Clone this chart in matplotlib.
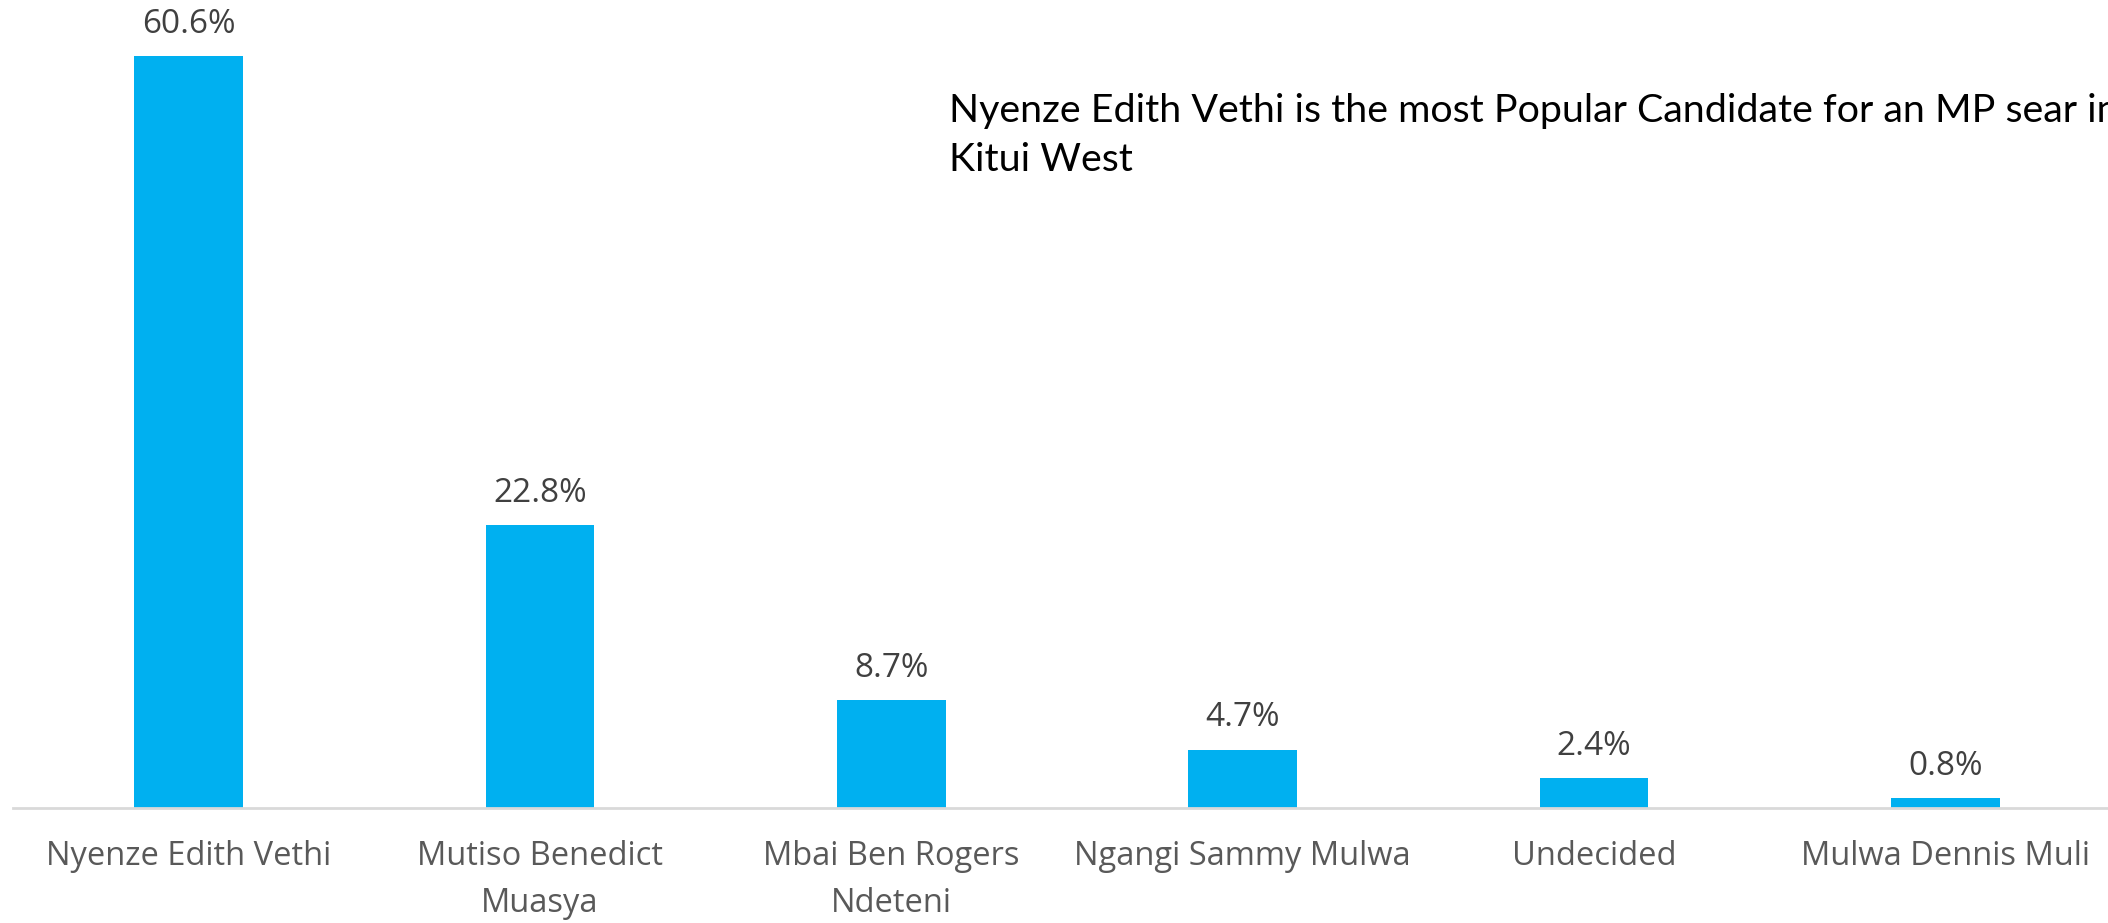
import numpy as np
import matplotlib.pyplot as plt

# candidates and share of support (%)
candidates = ['Nyenze Edith Vethi', 'Mutiso Benedict\nMuasya', 'Mbai Ben Rogers\nNdeteni',
              'Ngangi Sammy Mulwa', 'Undecided', 'Mulwa Dennis Muli']
support = [60.6, 22.8, 8.7, 4.7, 2.4, 0.8]
note_lines = ['Nyenze Edith Vethi is the most Popular Candidate for an MP sear in', 'Kitui West']

W, H = 2108, 923
fig = plt.figure(figsize=(W/100, H/100), dpi=100)
ax = fig.add_axes([13/W, 1-808/H, 1, 808/H])

x = np.arange(len(candidates))
bars = ax.bar(x, support, width=0.31, color='#00B0F0')

for xi, v in zip(x, support):
    ax.annotate(f'{v}%', (xi, v), xytext=(0, 11), textcoords='offset points',
                ha='center', va='bottom', fontsize=24, color='#404040', family='Open Sans')

ax.set_xlim(-0.5, 5.5)
ax.set_ylim(0, 65.1)
ax.set_xticks(x)
ax.set_xticklabels(candidates, fontsize=23.5, color='#595959', family='Open Sans', linespacing=1.55)
ax.tick_params(axis='x', length=0, pad=23)
ax.set_yticks([])
for s in ['top', 'right', 'left']:
    ax.spines[s].set_visible(False)
ax.spines['bottom'].set_color('#D9D9D9')
ax.spines['bottom'].set_linewidth(2)

# note, one text per line (baselines at 122 and 171 px from top)
for i, line in enumerate(note_lines):
    fig.text(949/W, 1-(122+49*i)/H, line, ha='left', va='baseline', fontsize=28.4,
             color='black', family='Lato')

fig.savefig('out.png', dpi=100)
